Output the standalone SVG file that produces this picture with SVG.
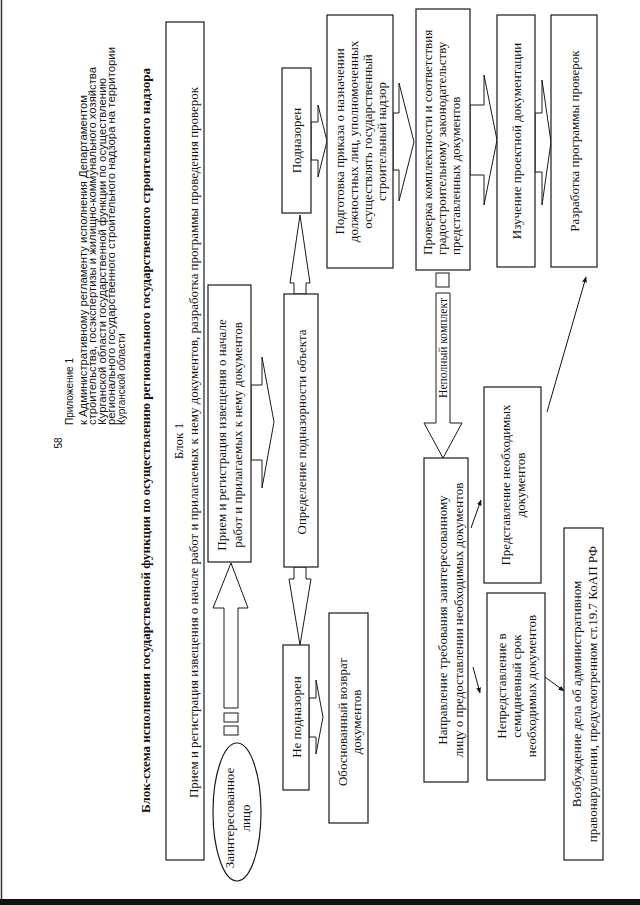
<svg xmlns="http://www.w3.org/2000/svg" width="640" height="905" viewBox="0 0 640 905">
<defs>
<marker id="ah" viewBox="0 0 10 10" refX="9" refY="5" markerWidth="6" markerHeight="6" orient="auto">
<path d="M0,1 L10,5 L0,9 Z" fill="#111"/>
</marker>
<style>
.b{fill:#fff;stroke:#1a1a1a;stroke-width:1.2}
.ba{fill:#fff;stroke:#1a1a1a;stroke-width:1}
.t{font-family:"Liberation Serif","Times New Roman",serif;font-size:13px;fill:#111;text-anchor:middle}
.ts{font-family:"Liberation Serif","Times New Roman",serif;font-size:13px;fill:#111;text-anchor:start}
.h{font-family:"Liberation Sans",Arial,sans-serif;font-size:10px;fill:#111}
.tt{font-family:"Liberation Serif","Times New Roman",serif;font-size:12.5px;font-weight:bold;fill:#111;text-anchor:middle}
.ln{stroke:#111;stroke-width:1;fill:none;marker-end:url(#ah)}
</style>
</defs>
<rect x="0" y="0" width="640" height="905" fill="#fff"/>
<line x1="1.5" y1="0" x2="1.5" y2="900" stroke="#333" stroke-width="1.5"/>
<rect x="0" y="899" width="640" height="6" fill="#111"/>

<g id="header">
<text class="h" text-anchor="middle" font-size="11" transform="translate(62,443) rotate(-90)">58</text>
<text class="h" transform="translate(73,425) rotate(-90)">Приложение 1</text>
<text class="h" textLength="330" lengthAdjust="spacingAndGlyphs" transform="translate(86.6,425) rotate(-90)">к Административному регламенту исполнения Департаментом</text>
<text class="h" textLength="358" lengthAdjust="spacingAndGlyphs" transform="translate(96.1,425) rotate(-90)">строительства, госэкспертизы и жилищно-коммунального хозяйства</text>
<text class="h" textLength="347" lengthAdjust="spacingAndGlyphs" transform="translate(105.6,425) rotate(-90)">Курганской области государственной функции по осуществлению</text>
<text class="h" textLength="378" lengthAdjust="spacingAndGlyphs" transform="translate(115.1,425) rotate(-90)">регионального государственного строительного надзора на территории</text>
<text class="h" transform="translate(124.6,425) rotate(-90)">Курганской области</text>
<text class="tt" textLength="745" lengthAdjust="spacingAndGlyphs" transform="translate(150,440.5) rotate(-90)">Блок-схема исполнения государственной функции по осуществлению регионального государственного строительного надзора</text>
</g>

<g id="connectors">
<polygon class="ba" points="311,122 318,122 318,105 327,141 318,177 318,160 311,160"/>
<polygon class="ba" points="393,113 399,113 399,83 414,142 399,201 399,170 393,170"/>
<polygon class="ba" points="470,105 484,105 484,75 497,140 484,205 484,175 470,175"/>
<polygon class="ba" points="535,113 542,113 542,80 551,142 542,205 542,172 535,172"/>
<polygon class="ba" points="251,385 262,385 262,357 274,422 262,488 262,460 251,460"/>
<polygon class="ba" points="309,698 316,698 316,680 323,717 316,754 316,737 309,737"/>
<polygon class="ba" points="224,708 224,608 213,608 231,563 248,608 238,608 238,708"/>
<rect class="ba" x="224" y="713" width="14" height="9"/>
<rect class="ba" x="224" y="726" width="14" height="9"/>
<polygon class="ba" points="300,215 310,283 306,283 306,294 294,294 294,283 290,283"/>
<polygon class="ba" points="294,567 306,567 306,579 311,579 300,645 289,579 294,579"/>
<rect class="ba" x="436" y="273" width="13" height="14"/>
<polygon class="ba" points="436,293 450,293 450,423 462,423 443,458 424,423 436,423"/>
<text class="t" font-size="11.5" textLength="100" lengthAdjust="spacingAndGlyphs" transform="translate(447,348) rotate(-90)">Неполный комплект</text>
<line class="ln" x1="547" y1="412" x2="586" y2="277"/>
<line class="ln" x1="471" y1="528" x2="481" y2="500"/>
<line class="ln" x1="473" y1="667" x2="480" y2="693"/>
<line class="ln" x1="545" y1="677" x2="564" y2="691"/>
</g>

<g id="block1">
<rect class="b" x="166" y="22" width="38" height="838"/>
<text class="t" transform="translate(183,441) rotate(-90)">Блок 1</text>
<text class="t" font-size="12.5" textLength="711" lengthAdjust="spacingAndGlyphs" transform="translate(198,442.5) rotate(-90)">Прием и регистрация извещения о начале работ и прилагаемых к нему документов, разработка программы проведения проверок</text>
</g>

<g id="podnadzoren">
<rect class="b" x="282" y="68" width="29" height="145"/>
<text class="t" transform="translate(301,140.5) rotate(-90)">Подназорен</text>
</g>

<g id="podgotovka">
<rect class="b" x="327" y="15" width="66" height="253"/>
<text class="t" transform="translate(343.5,141.5) rotate(-90)">Подготовка приказа о назначении</text>
<text class="t" transform="translate(357.5,141.5) rotate(-90)">должностных лиц, уполномоченных</text>
<text class="t" transform="translate(371.5,141.5) rotate(-90)">осуществлять государственный</text>
<text class="t" transform="translate(385.5,141.5) rotate(-90)">строительный надзор</text>
</g>

<g id="proverka">
<rect class="b" x="416" y="9" width="54" height="261"/>
<text class="ts" transform="translate(431.5,255) rotate(-90)">Проверка комплектности и соответствия</text>
<text class="ts" transform="translate(445.5,255) rotate(-90)">градостроительному законодательству</text>
<text class="ts" transform="translate(459.5,255) rotate(-90)">представленных документов</text>
</g>

<g id="izuchenie">
<rect class="b" x="497" y="15" width="38" height="252"/>
<text class="t" transform="translate(520.5,141) rotate(-90)">Изучение проектной документации</text>
</g>

<g id="razrabotka">
<rect class="b" x="551" y="15" width="46" height="252"/>
<text class="t" transform="translate(578.5,141) rotate(-90)">Разработка программы проверок</text>
</g>

<g id="priem">
<rect class="b" x="208" y="285" width="43" height="277"/>
<text class="t" transform="translate(225.5,435) rotate(-90)">Прием и регистрация извещения о начале</text>
<text class="t" transform="translate(241.5,435) rotate(-90)">работ и прилагаемых к нему документов</text>
</g>

<g id="opredelenie">
<rect class="b" x="284" y="294" width="34" height="273"/>
<text class="t" transform="translate(305.5,432) rotate(-90)">Определение подназорности объекта</text>
</g>

<g id="ne-podnadzoren">
<rect class="b" x="283" y="645" width="26" height="145"/>
<text class="t" transform="translate(300.5,717) rotate(-90)">Не подназорен</text>
</g>

<g id="vozvrat">
<rect class="b" x="329" y="613" width="39" height="210"/>
<text class="t" transform="translate(346.5,722) rotate(-90)">Обоснованный возврат</text>
<text class="t" transform="translate(360.5,722) rotate(-90)">документов</text>
</g>

<g id="napravlenie">
<rect class="b" x="424" y="458" width="44" height="324"/>
<text class="t" transform="translate(446.5,620) rotate(-90)">Направление требования заинтересованному</text>
<text class="t" transform="translate(462.5,620) rotate(-90)">лицу о предоставлении необходимых документов</text>
</g>

<g id="predstavlenie">
<rect class="b" x="484" y="387" width="57" height="196"/>
<text class="t" transform="translate(509.5,485) rotate(-90)">Представление необходимых</text>
<text class="t" transform="translate(524.5,485) rotate(-90)">документов</text>
</g>

<g id="nepredstavlenie">
<rect class="b" x="487" y="593" width="58" height="187"/>
<text class="t" transform="translate(505.5,686) rotate(-90)">Непредставление в</text>
<text class="t" transform="translate(520.5,686) rotate(-90)">семидневный срок</text>
<text class="t" transform="translate(535.5,686) rotate(-90)">необходимых документов</text>
</g>

<g id="vozbuzhdenie">
<rect class="b" x="564" y="528" width="39" height="332"/>
<text class="t" transform="translate(580.5,694) rotate(-90)">Возбуждение дела об административном</text>
<text class="t" transform="translate(596.5,694) rotate(-90)">правонарушении, предусмотренном ст.19.7 КоАП РФ</text>
</g>

<g id="zainteresovannoe">
<ellipse class="b" cx="237" cy="812" rx="24" ry="69"/>
<text class="t" transform="translate(233.5,818) rotate(-90)">Заинтересованное</text>
<text class="t" transform="translate(249.5,818) rotate(-90)">лицо</text>
</g>
</svg>
